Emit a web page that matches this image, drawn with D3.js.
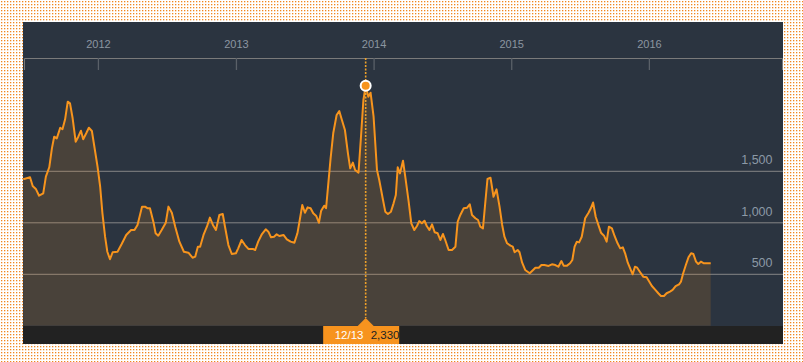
<!DOCTYPE html>
<html><head><meta charset="utf-8">
<script src="https://cdn.jsdelivr.net/npm/d3@7"></script>
<style>html,body{margin:0;padding:0;background:#fff;} svg{display:block;font-family:"Liberation Sans",Arial,sans-serif;}</style>
</head><body><svg id="c" width="803" height="362"></svg>
<script>
// ---- data ----
const dates = [
"2011-06-17","2011-07-05","2011-07-12","2011-07-21","2011-07-29","2011-08-09","2011-08-16","2011-08-25","2011-09-01","2011-09-07","2011-09-14","2011-09-23","2011-09-29","2011-10-06","2011-10-13","2011-10-19","2011-10-26","2011-11-03","2011-11-10","2011-11-17","2011-11-23","2011-12-01","2011-12-08","2011-12-16","2011-12-24","2011-12-31",
"2012-01-07","2012-01-13","2012-01-20","2012-01-26","2012-02-02","2012-02-09","2012-02-22","2012-03-04","2012-03-16","2012-03-29","2012-04-07","2012-04-15","2012-04-27","2012-05-05","2012-05-12","2012-05-18","2012-05-28","2012-06-02","2012-06-09","2012-06-18","2012-06-29","2012-07-06","2012-07-15","2012-07-24","2012-08-04","2012-08-16","2012-08-28","2012-09-08","2012-09-15","2012-09-22","2012-09-28","2012-10-07","2012-10-16","2012-10-24","2012-11-01","2012-11-09","2012-11-18","2012-11-27","2012-12-03","2012-12-12","2012-12-21",
"2013-01-01","2013-01-07","2013-01-16","2013-01-25","2013-02-03","2013-02-15","2013-02-21","2013-03-01","2013-03-11","2013-03-21","2013-03-28","2013-04-04","2013-04-12","2013-04-19","2013-04-26","2013-05-07","2013-05-16","2013-05-26","2013-06-05","2013-06-13","2013-06-20","2013-06-26","2013-07-03","2013-07-10","2013-07-18","2013-07-25","2013-08-02","2013-08-09","2013-08-15","2013-08-23","2013-08-28","2013-09-03","2013-09-09","2013-09-16","2013-09-25","2013-10-02","2013-10-09","2013-10-17","2013-10-25","2013-10-31","2013-11-07","2013-11-13","2013-11-22","2013-11-28","2013-12-05","2013-12-11","2013-12-18","2013-12-24",
"2014-01-01","2014-01-10","2014-01-16","2014-01-26","2014-02-01","2014-02-08","2014-02-16","2014-02-23","2014-03-01","2014-03-06","2014-03-12","2014-03-20","2014-03-26","2014-04-04","2014-04-11","2014-04-19","2014-04-26","2014-05-02","2014-05-09","2014-05-16","2014-05-22","2014-05-29","2014-06-05","2014-06-12","2014-06-20","2014-06-27","2014-07-04","2014-07-10","2014-07-19","2014-07-28","2014-08-06","2014-08-12","2014-08-19","2014-08-28","2014-09-06","2014-09-13","2014-09-19","2014-09-28","2014-10-05","2014-10-11","2014-10-18","2014-10-24","2014-10-30","2014-11-07","2014-11-15","2014-11-23","2014-12-01","2014-12-08","2014-12-14","2014-12-21","2014-12-30",
"2015-01-05","2015-01-10","2015-01-18","2015-01-23","2015-01-30","2015-02-07","2015-02-19","2015-02-28","2015-03-06","2015-03-15","2015-03-22","2015-03-30","2015-04-10","2015-04-19","2015-04-28","2015-05-06","2015-05-14","2015-05-20","2015-05-29","2015-06-06","2015-06-12","2015-06-18","2015-06-24","2015-06-30","2015-07-07","2015-07-16","2015-07-25","2015-07-31","2015-08-06","2015-08-13","2015-08-20","2015-08-27","2015-09-04","2015-09-11","2015-09-17","2015-09-25","2015-10-02","2015-10-10","2015-10-17","2015-10-24","2015-10-30","2015-11-06","2015-11-14","2015-11-19","2015-11-25","2015-12-01","2015-12-08","2015-12-17","2015-12-26",
"2016-01-01","2016-01-09","2016-01-17","2016-01-26","2016-02-02","2016-02-10","2016-02-17","2016-02-26","2016-03-04","2016-03-12","2016-03-21","2016-03-26","2016-04-01","2016-04-08","2016-04-15","2016-04-22","2016-04-28","2016-05-05","2016-05-11","2016-05-18","2016-05-26","2016-06-04","2016-06-13"
];
const values = [
1422,1442,1357,1325,1263,1286,1448,1539,1723,1836,1820,1923,1908,2005,2176,2160,2015,1787,1836,1894,1811,1869,1923,1891,1707,1545,
1350,1092,865,719,646,714,719,794,882,930,930,979,1157,1157,1141,1141,995,898,875,930,1001,1157,1098,962,817,719,710,661,671,768,768,882,962,1050,979,930,1076,1085,962,784,697,
704,752,833,784,746,746,736,817,891,937,914,859,865,888,872,882,840,817,807,898,1044,1173,1098,1150,1141,1092,1066,1001,1118,1166,1141,1383,1626,1869,2047,2085,1998,1901,1675,1529,1584,1513,1487,1804,2192,2330,2224,2263,
2030,1513,1416,1221,1108,1085,1108,1189,1270,1539,1480,1603,1448,1205,995,930,969,1017,995,1020,969,930,985,908,898,833,891,833,736,736,768,1011,1076,1141,1147,1180,1076,1044,1027,962,946,1189,1425,1438,1253,1325,1157,979,865,801,778,
768,714,736,714,613,542,510,542,564,564,590,590,581,597,590,574,629,584,584,607,639,768,817,810,865,1044,1097,1141,1197,1059,980,904,875,817,962,946,872,801,752,762,704,613,542,500,574,564,525,477,471,
435,386,354,316,289,289,316,331,348,386,403,428,510,590,665,704,697,623,600,623,607,607,607
];
const yearTicks = ["2012-01-01","2013-01-01","2014-01-01","2015-01-01","2016-01-01"];
const valueTicks = [500, 1000, 1500];
const timeDomain = ["2011-06-19", "2016-12-19"];
const valueDomain = [0, 2500];

// ---- drawing ----
const W = 803, H = 362;
const P = {x: 23, y: 22, w: 760, h: 322};
const plotBottom = 326;
const parse = d3.utcParse("%Y-%m-%d");
const data = dates.map((d, i) => ({date: parse(d), value: values[i]}));

const x = d3.scaleUtc().domain(timeDomain.map(parse)).range([24, 782]);
const y = d3.scaleLinear().domain(valueDomain).range([325.8, 68.3]);

const svg = d3.select("#c");
const defs = svg.append("defs");
const pat = defs.append("pattern").attr("id", "dots").attr("width", 3).attr("height", 3).attr("patternUnits", "userSpaceOnUse");
pat.append("rect").attr("width", 3).attr("height", 3).attr("fill", "#ffffff");
pat.append("rect").attr("x", 1).attr("y", 1).attr("width", 1.3).attr("height", 1.3).attr("fill", "#f0871e");
defs.append("clipPath").attr("id", "clip").append("rect")
  .attr("x", P.x).attr("y", P.y).attr("width", P.w).attr("height", plotBottom - P.y);

svg.append("rect").attr("width", W).attr("height", H).attr("fill", "url(#dots)");
svg.append("rect").attr("x", P.x).attr("y", P.y).attr("width", P.w).attr("height", P.h).attr("fill", "#2b3440");
svg.append("rect").attr("x", P.x).attr("y", plotBottom).attr("width", P.w).attr("height", P.y + P.h - plotBottom).attr("fill", "#222222");

// gridlines
svg.append("g").selectAll("line").data(valueTicks).join("line")
  .attr("x1", P.x).attr("x2", P.x + P.w)
  .attr("y1", d => y(d)).attr("y2", d => y(d))
  .attr("stroke", "#858585").attr("stroke-width", 1);

const g = svg.append("g").attr("clip-path", "url(#clip)");
g.append("path").datum(data)
  .attr("d", d3.area().x(d => x(d.date)).y0(y(0)).y1(d => y(d.value)))
  .attr("fill", "#f7941d").attr("fill-opacity", 0.15);
g.append("path").datum(data)
  .attr("d", d3.line().x(d => x(d.date)).y(d => y(d.value)))
  .attr("fill", "none").attr("stroke", "#f7941d").attr("stroke-width", 2).attr("stroke-linejoin", "round");

// y labels
svg.append("g").selectAll("text").data(valueTicks).join("text")
  .attr("x", 772.5).attr("y", d => y(d) - 7)
  .attr("text-anchor", "end").attr("fill", "#8c99a6").attr("font-size", "12.5px")
  .text(d => d3.format(",")(d));

// top time axis
const ax = svg.append("g").attr("transform", "translate(0,58)")
  .call(d3.axisBottom(x).tickValues(yearTicks.map(parse)).tickFormat(d3.utcFormat("%Y")).tickSize(12).tickSizeOuter(12));
ax.select(".domain").attr("stroke", "#7a7a7a");
ax.selectAll(".tick line").attr("stroke", "#5a6068").attr("stroke-width", 1.3);
ax.selectAll(".tick text").attr("y", -10).attr("dy", "0").attr("fill", "#8b96a0").attr("font-size", "11px")
  .attr("font-family", "Liberation Sans, Arial, sans-serif");

// highlighted max point with tooltip
const peak = data.reduce((a, b) => (b.value > a.value ? b : a));
const px = x(peak.date), py = y(peak.value);
svg.append("line").attr("x1", px).attr("x2", px).attr("y1", 58).attr("y2", 318)
  .attr("stroke", "#eea12a").attr("stroke-width", 1.6).attr("stroke-dasharray", "2,1.5");
svg.append("circle").attr("cx", px).attr("cy", py).attr("r", 5)
  .attr("fill", "#f7941d").attr("stroke", "#ffffff").attr("stroke-width", 2);
const tip = svg.append("g");
tip.append("rect").attr("x", px - 42.5).attr("y", plotBottom).attr("width", 76).attr("height", P.y + P.h - plotBottom).attr("fill", "#f7931e");
tip.append("path").attr("d", `M${px - 8},${plotBottom} L${px},${plotBottom - 8} L${px + 8},${plotBottom} Z`).attr("fill", "#f7931e");
tip.append("text").attr("x", px - 31).attr("y", 339.3).attr("fill", "#ffffff").attr("font-size", "11.5px").text(d3.utcFormat("%m/%y")(peak.date));
tip.append("text").attr("x", px + 5).attr("y", 339.3).attr("fill", "#222222").attr("font-size", "11.5px").text(d3.format(",")(peak.value));
</script></body></html>
